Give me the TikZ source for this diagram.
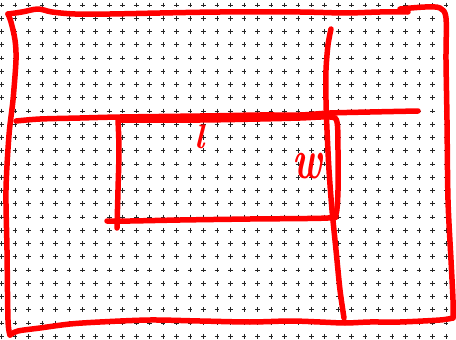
\documentclass[tikz,border=0pt]{standalone}
\begin{document}
\begin{tikzpicture}[x=1pt,y=-1pt,
  ink/.style={draw=red, line width=5.5pt, line cap=round, line join=round},
  gridcross/.style={draw=black!85, line width=0.65pt},
  inklabel/.style={text=red, inner sep=0pt}]
\useasboundingbox (0,0) rectangle (456,340);
\fill[white] (0,0) rectangle (456,340);
% dotted grid of small crosses
\foreach \i in {0,...,33}{%
  \foreach \j in {0,...,25}{%
    \draw[gridcross] ({1.5+13.47*\i-2.3},{5+13.25*\j}) -- ++(4.6,0)
                     ({1.5+13.47*\i},{5+13.25*\j-2.3}) -- ++(0,4.6);
  }}
% outer frame: top
\draw[ink] plot[smooth, tension=0.5] coordinates {(8,14) (22,12) (38,9) (52,12) (75,14) (110,14) (160,13) (220,12) (300,12) (345,13) (380,12) (408,12)};
% outer frame: top right corner, right side
\draw[ink] plot[smooth, tension=0.5] coordinates {(400,9) (425,7) (440,8) (446,18) (446,60) (447,120) (448,200) (451,260) (453,300) (453,318)};
% outer frame: bottom
\draw[ink] plot[smooth, tension=0.5] coordinates {(453,318) (440,320) (400,322) (370,322) (345,323) (320,322) (290,321) (250,322) (200,321) (150,320) (100,322) (70,324) (40,328) (18,331) (10,335)};
% outer frame: left side
\draw[ink] plot[smooth, tension=0.5] coordinates {(10,335) (8,320) (7,250) (6,190) (9,135) (13,100) (16,60) (15,40) (11,22) (8,14)};
% middle horizontal line
\draw[ink] plot[smooth, tension=0.5] coordinates {(16,121) (40,119) (80,118) (120,117) (200,116) (260,115) (300,115) (330,113) (370,112) (418,111)};
% long vertical line
\draw[ink] plot[smooth, tension=0.5] coordinates {(331,29) (328,45) (326,70) (326,100) (327,130) (329,170) (332,210) (336,250) (340,290) (344,318)};
% inner rectangle
\draw[ink] plot[smooth, tension=0.5] coordinates {(120,120) (200,120) (260,119) (300,118) (330,117) (337,122) (338,150) (338,190) (336,214) (328,218) (250,219) (180,220) (130,221) (107,221)};
\draw[ink] plot[smooth, tension=0.5] coordinates {(118,120) (119,150) (118,190) (117,228)};
% labels
\node[inklabel, font=\fontsize{34}{34}\selectfont\bfseries\itshape] (labl) at (200,137) {l};
\node[inklabel, font=\fontsize{56}{56}\selectfont\bfseries\itshape, xscale=0.7] (labw) at (308,166) {w};
\end{tikzpicture}
\end{document}
